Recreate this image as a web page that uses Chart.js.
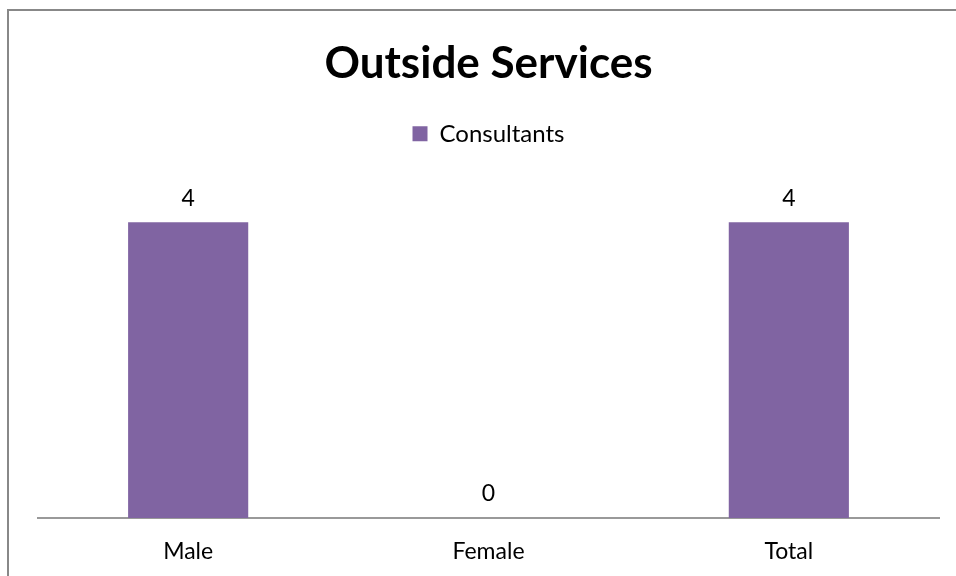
<!DOCTYPE html>
<html>
<head>
<meta charset="utf-8">
<script src="https://cdn.jsdelivr.net/npm/chart.js@4"></script>
<style>
  body { margin: 0; background: #fff; }
  #wrap { position: relative; width: 956px; height: 576px; overflow: hidden; }
  #frame { position: absolute; left: 7px; top: 9px; width: 1000px; height: 1000px; border: 2px solid #888; box-sizing: border-box; }
  canvas { position: absolute; left: 0; top: 0; }
</style>
</head>
<body>
<div id="wrap">
  <div id="frame"></div>
  <canvas id="chart" width="956" height="576"></canvas>
</div>
<script>
var categories = ['Male', 'Female', 'Total'];
var consultants = [4, 0, 4];
var seriesName = 'Consultants';
var yMax = 4.9;

var fontFamily = "Lato, 'Open Sans', sans-serif";

// draw the value above each bar
var valueLabels = {
    id: 'valueLabels',
    afterDatasetsDraw: function(chart) {
        var ctx = chart.ctx;
        var meta = chart.getDatasetMeta(0);
        ctx.save();
        ctx.fillStyle = '#000';
        ctx.font = '23px ' + fontFamily;
        ctx.textAlign = 'center';
        ctx.textBaseline = 'middle';
        meta.data.forEach(function(bar, i) {
            ctx.fillText(chart.data.datasets[0].data[i], bar.x, bar.y - 24);
        });
        ctx.restore();
    }
};

var mychart = document.getElementById('chart').getContext('2d');
var newChart = new Chart(mychart, {
    type: 'bar',
    data: {
        labels: categories,
        datasets: [{
            label: seriesName,
            data: consultants,
            backgroundColor: '#8064A2',
            categoryPercentage: 1,
            barPercentage: 0.4
        }]
    },
    options: {
        responsive: false,
        animation: false,
        layout: { padding: { left: 38, right: 17, top: 37, bottom: 0 } },
        plugins: {
            title: {
                display: true,
                text: 'Outside Services',
                color: '#000',
                font: { family: fontFamily, size: 44, weight: 'bold' },
                padding: { top: 0, bottom: 32 }
            },
            legend: {
                display: true,
                labels: {
                    color: '#000',
                    font: { family: fontFamily, size: 24 },
                    boxWidth: 15,
                    boxHeight: 15,
                    padding: 0
                }
            },
            tooltip: { enabled: false }
        },
        scales: {
            x: {
                grid: { display: false },
                border: { display: true, color: '#999', width: 2 },
                ticks: { color: '#000', font: { family: fontFamily, size: 23 }, padding: 12 },
                afterFit: function(scale) { scale.height = 58; }
            },
            y: {
                display: false,
                min: 0,
                max: yMax
            }
        }
    },
    plugins: [valueLabels]
});
</script>
</body>
</html>
